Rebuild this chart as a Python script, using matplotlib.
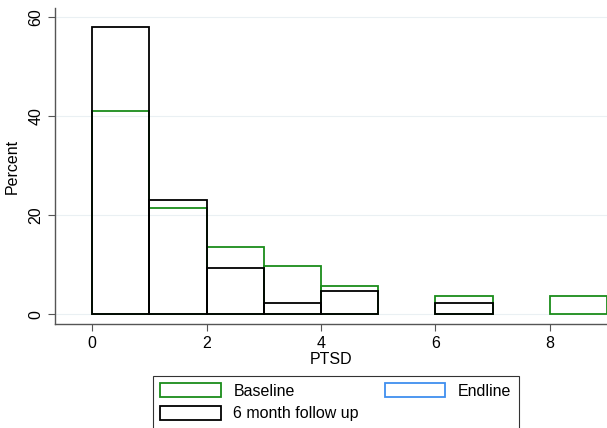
import matplotlib
matplotlib.use("Agg")
import matplotlib.pyplot as plt
from matplotlib.patches import Patch

plt.rcParams['font.family'] = ['Liberation Sans', 'DejaVu Sans']

# histogram bins (left edges), percent per bin
baseline_bins = [0, 1, 2, 3, 4, 6, 8]
baseline_pct = [41.0, 21.4, 13.5, 9.7, 5.7, 3.6, 3.6]
endline_bins = []
endline_pct = []
followup_bins = [0, 1, 2, 3, 4, 6]
followup_pct = [58.0, 23.0, 9.3, 2.2, 4.6, 2.2]

green = '#1a8c1a'
blue = '#3f8fef'

fig = plt.figure(figsize=(6.07, 4.28), dpi=100)
ax = fig.add_axes([0.0906, 0.243, 0.9094, 0.738])

ax.bar(baseline_bins, baseline_pct, width=1, align='edge', fill=False,
       edgecolor=green, linewidth=1.3)
ax.bar(endline_bins, endline_pct, width=1, align='edge', fill=False,
       edgecolor=blue, linewidth=1.3)
ax.bar(followup_bins, followup_pct, width=1, align='edge', fill=False,
       edgecolor='black', linewidth=1.3)

ax.set_xlim(-0.65, 9.0)
ax.set_ylim(-2.0, 61.8)
ax.set_xticks([0, 2, 4, 6, 8])
ax.set_yticks([0, 20, 40, 60])
ax.grid(axis='y', color='#eaf0f3', linewidth=0.8)
ax.set_axisbelow(True)
for s in ['top', 'right']:
    ax.spines[s].set_visible(False)
for s in ['left', 'bottom']:
    ax.spines[s].set_color('#555555')
    ax.spines[s].set_linewidth(1.0)
ax.tick_params(direction='out', length=5, color='#555555', labelsize=11.5)
ax.tick_params(axis='y', labelrotation=90)
for lbl in ax.get_yticklabels():
    lbl.set_va('center')
ax.set_xlabel('PTSD', fontsize=11.5, labelpad=1)
ax.set_ylabel('Percent', fontsize=11.5, labelpad=6)

handles = [Patch(facecolor='white', edgecolor=green, linewidth=1.3, label='Baseline'),
           Patch(facecolor='white', edgecolor='black', linewidth=1.3, label='6 month follow up'),
           Patch(facecolor='white', edgecolor=blue, linewidth=1.3, label='Endline')]
leg = fig.legend(handles=handles, ncol=2, loc='lower center',
                 bbox_to_anchor=(0.553, -0.02), fontsize=11.5, frameon=True,
                 fancybox=False, edgecolor='black', handlelength=3.8,
                 handleheight=0.95, handletextpad=0.8, columnspacing=1.6,
                 borderpad=0.45, labelspacing=0.45)
leg.get_frame().set_linewidth(0.8)

fig.savefig('out.png', dpi=100)
